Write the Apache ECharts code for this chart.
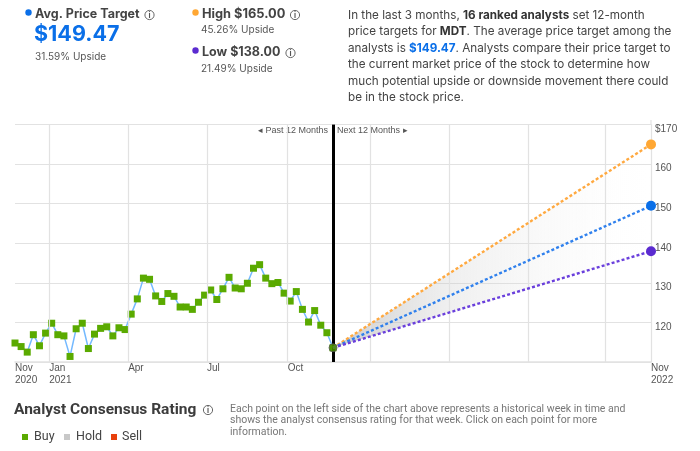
<!DOCTYPE html>
<html><head><meta charset="utf-8">
<style>html,body{margin:0;padding:0;background:#fff}#c{width:700px;height:451px}</style>
<script src="https://cdn.jsdelivr.net/npm/echarts@6/dist/echarts.min.js"></script>
</head><body><div id="c"></div>
<script>
const historyValues = [114.8,113.9,112.5,116.9,114.1,117.3,119.8,116.9,116.6,111.4,118.4,119.8,113.4,117.05,118.5,118.9,116.6,118.65,118.2,122.1,125.95,131.2,130.9,126.7,125.3,127.3,126.6,123.9,123.9,123.3,125.1,126.9,128.2,125.8,128.5,131.4,128.7,128.5,129.9,133.7,134.6,131.2,129.8,130.1,127.4,125.4,127.8,123.3,120.1,123.0,119.3,117.4,113.59];
const forecastWeeks = [52,104];
const highTarget = [113.59,165];
const avgTarget = [113.59,149.47];
const lowTarget = [113.59,138];
const monthTicks = [5.6,18.5,31.4,44.6,58.1,71,84,96.5];
const labelWeeks = [0,5.6,18.5,31.4,44.6,104];
const labelTexts = ['Nov\n2020','Jan\n2021','Apr','Jul','Oct','Nov\n2022'];
const paragraph = [
 '{n|In the last 3 months, }{b|16 ranked analysts}{n| set 12-month}',
 '{n|price targets for }{b|MDT}{n|. The average price target among the}',
 '{n|analysts is }{l|$149.47}{n|. Analysts compare their price target to}',
 '{n|the current market price of the stock to determine how}',
 '{n|much potential upside or downside movement there could}',
 '{n|be in the stock price.}'];
const note = ['Each point on the left side of the chart above represents a historical week in time and',
 'shows the analyst consensus rating for that week. Click on each point for more','information.'];

const F='Inter, "Noto Sans", sans-serif', D='Roboto, sans-serif', A='"Liberation Sans", Arial, sans-serif';
const txt=(x,y,text,size,weight,fill,font,extra)=>({type:'text',x,y,silent:true,style:Object.assign({text,fontSize:size,fontWeight:weight,fill,fontFamily:font||F,verticalAlign:'middle',align:'left'},extra||{})});
const dot=(x,y,r,fill)=>({type:'circle',silent:true,shape:{cx:x,cy:y,r},style:{fill}});
const info=(x,y)=>[{type:'circle',silent:true,shape:{cx:x,cy:y,r:4.6},style:{fill:'#fff',stroke:'#666',lineWidth:1}},
  txt(x,y+.5,'i',7.5,'bold','#555',F,{align:'center'})];
const sq=(x,y,fill)=>({type:'rect',silent:true,shape:{x,y,width:6,height:6},style:{fill}});
const rich={n:{fontFamily:F,fontSize:11.7,fill:'#444'},b:{fontFamily:F,fontSize:11.7,fontWeight:'bold',fill:'#333'},l:{fontFamily:F,fontSize:11.7,fontWeight:'bold',fill:'#0a6fe8'}};

const graphics=[
 dot(28.5,12.5,3.2,'#0a6fe8'), txt(35,14,'Avg. Price Target',12.5,'bold','#444'), ...info(149.5,15),
 txt(34,35,'$149.47',21.5,'bold','#0a6fe8'), txt(35,56.5,'31.59% Upside',10,'normal','#555'),
 dot(195.5,12.5,3.2,'#ffa733'), txt(202,14,'High $165.00',12.8,'bold','#444'), ...info(295,15),
 txt(201,30,'45.26% Upside',10,'normal','#555'),
 dot(195.5,50.5,3.2,'#5b2bd0'), txt(202,52.5,'Low $138.00',12.5,'bold','#444'), ...info(290.5,53),
 txt(201,69,'21.49% Upside',10,'normal','#555'),
 ...paragraph.map((s,i)=>({type:'text',x:348,y:15.5+i*16.4,silent:true,style:{text:s,rich,verticalAlign:'middle',align:'left'}})),
 txt(258,130.5,'\u25C2 Past 12 Months',9,'normal','#555',A),
 txt(337,130.5,'Next 12 Months \u25B8',9,'normal','#555',A),
 txt(14,410,'Analyst Consensus Rating',15.5,'bold','#3c3c3c',D), ...info(208,410),
 ...note.map((s,i)=>txt(230,409+i*11.8,s,10.5,'normal','#777',D)),
 sq(22,434,'#5aaa00'), txt(34,437,'Buy',12.5,'normal','#444',D),
 sq(64,434,'#c8c8c8'), txt(76,437,'Hold',12.5,'normal','#444',D),
 sq(111,434,'#e8400c'), txt(122,437,'Sell',12.5,'normal','#444',D),
 {type:'line',silent:true,shape:{x1:651,y1:120,x2:651,y2:125},style:{stroke:'#e2e2e2',lineWidth:1.2}}
];

const pair=a=>forecastWeeks.map((w,i)=>[w,a[i]]);
const endMark=(v,p)=>p.dataIndex===1?10:0;
const chart=echarts.init(document.getElementById('c'),null,{renderer:'canvas'});
chart.setOption({
 animation:false,
 grid:{left:15,right:49,top:124.6,height:237.4,containLabel:false},
 xAxis:{type:'value',min:0,max:104,
  axisLine:{show:true,onZero:false,lineStyle:{color:'#e2e2e2',width:1.5}},
  axisTick:{show:false,customValues:monthTicks},
  axisLabel:{customValues:labelWeeks,align:'left',margin:0,fontSize:10,lineHeight:12,color:'#555',fontFamily:A,
    formatter:v=>labelTexts[labelWeeks.indexOf(v)]||''},
  splitLine:{show:false}},
 yAxis:{type:'value',min:110,max:170,interval:10,position:'right',
  axisLine:{show:true,onZero:false,lineStyle:{color:'#e2e2e2',width:1.2}},axisTick:{show:false},
  axisLabel:{margin:4,fontSize:10,color:'#555',fontFamily:A,verticalAlign:'top',lineHeight:9,
    formatter:v=>v===110?'':(v===170?'$170':String(v))},
  splitLine:{show:true,lineStyle:{color:'#e2e2e2',width:1.2}}},
 graphic:graphics,
 series:[
  {type:'line',z:1,data:[],silent:true,symbol:'none',
   markLine:{silent:true,symbol:'none',label:{show:false},lineStyle:{color:'#e2e2e2',width:1.2,type:'solid'},data:monthTicks.map(t=>({xAxis:t}))}},
  {type:'custom',z:2,silent:true,data:[[forecastWeeks[0],highTarget[0],lowTarget[0]],[forecastWeeks[1],highTarget[1],lowTarget[1]]],
   encode:{x:0,y:[1,2]},
   renderItem:(p,api)=>{
     if(p.dataIndex!==0) return null;
     const a=api.coord([forecastWeeks[0],avgTarget[0]]),h=api.coord([forecastWeeks[1],highTarget[1]]),l=api.coord([forecastWeeks[1],lowTarget[1]]);
     return {type:'polygon',shape:{points:[a,h,l]},style:{fill:new echarts.graphic.LinearGradient(0,0,1,0,[{offset:0,color:'rgba(170,170,170,0.6)'},{offset:.35,color:'rgba(200,200,200,0.3)'},{offset:.8,color:'rgba(235,235,235,0.12)'},{offset:1,color:'rgba(255,255,255,0)'}])}};
   }},
  {type:'line',data:historyValues.map((v,i)=>[i,v]),z:4,symbol:'rect',symbolSize:7,showAllSymbol:true,
   lineStyle:{color:'#74b9ff',width:1.5},itemStyle:{color:'#5aaa00'},
   markLine:{silent:true,symbol:'none',label:{show:false},lineStyle:{color:'#000',width:3,type:'solid'},data:[{xAxis:52}],z:5}},
  {type:'line',z:6,data:pair(highTarget),symbol:'circle',symbolSize:endMark,showAllSymbol:true,lineStyle:{color:'#ffa940',width:2.4,type:[3,2.2]},itemStyle:{color:'#ffa733'}},
  {type:'line',z:6,data:pair(avgTarget),symbol:'circle',symbolSize:endMark,showAllSymbol:true,lineStyle:{color:'#2f80ed',width:2.4,type:[3,2.2]},itemStyle:{color:'#0a6fe8'}},
  {type:'line',z:6,data:pair(lowTarget),symbol:'circle',symbolSize:endMark,showAllSymbol:true,lineStyle:{color:'#6a3fdc',width:2.4,type:[3,2.2]},itemStyle:{color:'#5b2bd0'}},
  {type:'scatter',z:7,data:[[52,historyValues[52]]],symbolSize:8,itemStyle:{color:'#4f9a00',borderColor:'#555',borderWidth:1}}
 ]
});
</script></body></html>
